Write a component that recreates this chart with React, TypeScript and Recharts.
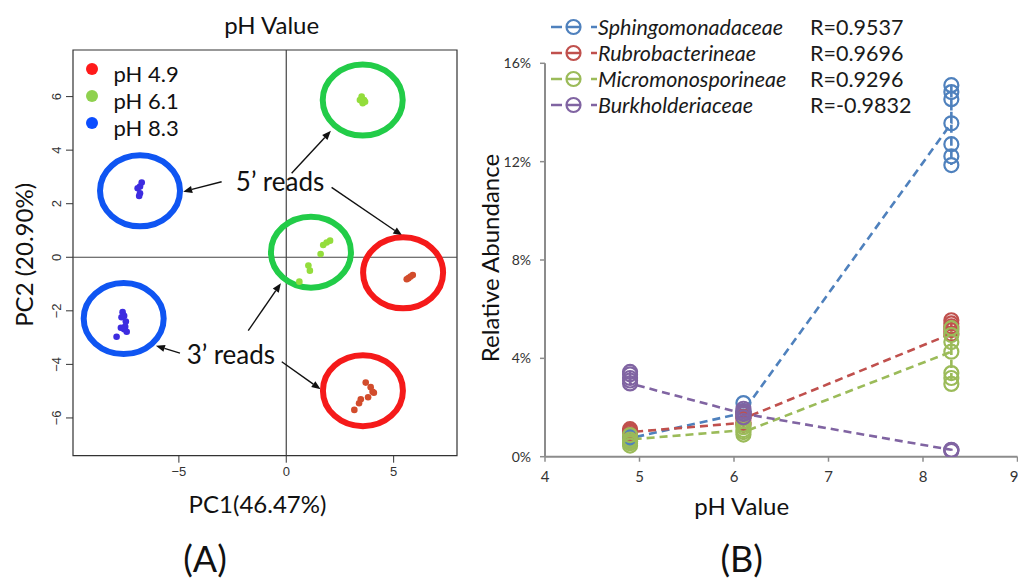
import React from "react";
import {
  ScatterChart,
  Scatter,
  ComposedChart,
  Line,
  XAxis,
  YAxis,
  ReferenceLine,
  ReferenceArea,
  ReferenceDot,
  Legend,
} from "recharts";

// ---- Panel A: PCA of reads ----
const pcaXDomain = [-9.93, 7.95];
const pcaYDomain = [-7.41, 7.74];
const pcaXTicks = [-5, 0, 5];
const pcaYTicks = [-6, -4, -2, 0, 2, 4, 6];

const phGroups = ["pH 4.9", "pH 6.1", "pH 8.3"];
const legendColors = ["#ff1a1a", "#8fd14f", "#0b4dff"];
const dotColors = ["#d24c2c", "#93dd3c", "#3d2ce0"];
const ringColors = ["#f51a1a", "#22cc48", "#0f55f2"];

const ph49Points = [
  { x: 5.69, y: -0.78 }, { x: 5.89, y: -0.66 }, { x: 5.79, y: -0.72 }, { x: 5.61, y: -0.82 },
  { x: 3.7, y: -4.68 }, { x: 3.93, y: -4.85 }, { x: 4.02, y: -5.02 }, { x: 4.08, y: -5.06 },
  { x: 3.81, y: -5.23 }, { x: 3.47, y: -5.3 }, { x: 3.39, y: -5.45 }, { x: 3.17, y: -5.7 },
];
const ph61Points = [
  { x: 3.51, y: 6.0 }, { x: 3.62, y: 5.87 }, { x: 3.56, y: 5.75 }, { x: 3.43, y: 5.87 }, { x: 3.67, y: 5.81 },
  { x: 2.04, y: 0.62 }, { x: 1.88, y: 0.55 }, { x: 1.72, y: 0.46 }, { x: 1.6, y: 0.12 },
  { x: 1.03, y: -0.31 }, { x: 1.1, y: -0.5 }, { x: 0.61, y: -0.91 },
];
const ph83Points = [
  { x: -6.81, y: 2.64 }, { x: -6.73, y: 2.79 }, { x: -6.92, y: 2.58 }, { x: -6.81, y: 2.39 }, { x: -6.85, y: 2.29 },
  { x: -7.62, y: -2.05 }, { x: -7.67, y: -2.24 }, { x: -7.55, y: -2.19 }, { x: -7.47, y: -2.4 },
  { x: -7.5, y: -2.59 }, { x: -7.7, y: -2.63 }, { x: -7.55, y: -2.69 }, { x: -7.43, y: -2.78 }, { x: -7.9, y: -2.97 },
];
const pointSets = [ph49Points, ph61Points, ph83Points];

// cluster rings (centres)
const ph49Rings = [{ x: 5.44, y: -0.58 }, { x: 3.57, y: -4.98 }];
const ph61Rings = [{ x: 3.56, y: 5.87 }, { x: 1.15, y: 0.19 }];
const ph83Rings = [{ x: -6.81, y: 2.48 }, { x: -7.57, y: -2.29 }];
const ringSets = [ph49Rings, ph61Rings, ph83Rings];

// annotation arrows, [from, to] in PC coordinates
const fivePrimeArrows = [
  [{ x: -3.01, y: 2.82 }, { x: -4.8, y: 2.45 }],
  [{ x: 0.25, y: 3.14 }, { x: 2.08, y: 4.72 }],
  [{ x: 2.11, y: 2.61 }, { x: 5.4, y: 0.81 }],
];
const threePrimeArrows = [
  [{ x: -1.77, y: -2.74 }, { x: -0.25, y: -0.97 }],
  [{ x: -4.95, y: -3.58 }, { x: -6.07, y: -3.3 }],
  [{ x: -0.21, y: -3.9 }, { x: 1.6, y: -4.93 }],
];
const readLabels = [
  { x: -0.29, y: 2.81, text: "5’ reads" },
  { x: -2.58, y: -3.65, text: "3’ reads" },
];

// ---- Panel B: relative abundance vs pH ----
const phLevels = [4.9, 6.1, 8.3];
const abundanceXTicks = [4, 5, 6, 7, 8, 9];
const abundanceYTicks = [0, 4, 8, 12, 16];
const taxa = ["Sphingomonadaceae", "Rubrobacterineae", "Micromonosporineae", "Burkholderiaceae"];
const rValues = ["R=0.9537", "R=0.9696", "R=0.9296", "R=-0.9832"];
const taxaColors = ["#4f81bd", "#c0504d", "#9bbb59", "#8064a2"];

// replicate abundances (%) per pH level, in plotting order
const sphingomonadaceae = [
  [0.62, 0.82, 0.75],
  [1.78, 2.18, 1.62, 1.85],
  [13.56, 15.11, 14.83, 14.54, 12.71, 12.22, 11.86],
];
const rubrobacterineae = [
  [0.92, 1.12, 1.05, 1.0],
  [1.38, 1.75, 1.62, 1.3, 1.55],
  [5.0, 5.55, 5.42, 5.3, 5.15],
];
const micromonosporineae = [
  [0.45, 0.88, 0.55, 0.62, 0.7],
  [1.08, 1.3, 0.9, 1.2, 1.0],
  [4.27, 5.23, 4.95, 4.66, 3.4, 3.2, 2.96],
];
const burkholderiaceae = [
  [3.45, 3.2, 3.35, 3.1, 2.98],
  [1.75, 1.95, 1.6, 1.85, 1.75],
  [0.28, 0.24, 0.27],
];
const taxaValues = [sphingomonadaceae, rubrobacterineae, micromonosporineae, burkholderiaceae];

const FONT = "Lato, 'Open Sans', sans-serif";
const RFONT = "'Liberation Sans', Arial, sans-serif";

const toSeries = (groups: number[][]) =>
  groups.flatMap((vals, i) => vals.map((v) => ({ x: phLevels[i], y: v })));

const fmtMinus = (v: number) => (v < 0 ? `\u2212${Math.abs(v)}` : `${v}`);

const arrowShape = (p: any) => {
  const { x1, y1, x2, y2 } = p;
  const ang = Math.atan2(y2 - y1, x2 - x1);
  const len = 9;
  const half = 3.6;
  const bx = x2 - len * Math.cos(ang);
  const by = y2 - len * Math.sin(ang);
  const px = -Math.sin(ang) * half;
  const py = Math.cos(ang) * half;
  return (
    <g>
      <line x1={x1} y1={y1} x2={bx} y2={by} stroke="#111" strokeWidth={1.4} />
      <polygon points={`${x2},${y2} ${bx + px},${by + py} ${bx - px},${by - py}`} fill="#111" />
    </g>
  );
};

// dx/dy measured from the axis line
const axisTitle = (text: string, dx: number, dy: number, vertical: boolean) => (props: any) => {
  const vb = props.viewBox || {};
  const cx = vertical ? vb.x + vb.width + dx : vb.x + vb.width / 2 + dx;
  const cy = vertical ? vb.y + vb.height / 2 + dy : vb.y + dy;
  return (
    <text
      x={cx}
      y={cy}
      dy="0.35em"
      textAnchor="middle"
      fontFamily={FONT}
      fontSize={24}
      fill="#111"
      transform={vertical ? `rotate(-90 ${cx} ${cy})` : undefined}
    >
      {text}
    </text>
  );
};

const pcaXTick = (p: any) => (
  <text x={p.x} y={p.y} dy="0.71em" textAnchor="middle" fontFamily={RFONT} fontSize={13} fill="#333">
    {fmtMinus(p.payload.value)}
  </text>
);

const pcaYTick = (p: any) => {
  const x = p.x + 3;
  return (
    <text x={x} y={p.y} textAnchor="middle" fontFamily={RFONT} fontSize={13} fill="#333" transform={`rotate(-90 ${x} ${p.y})`}>
      {fmtMinus(p.payload.value)}
    </text>
  );
};

const PcaLegend = () => (
  <div style={{ fontFamily: FONT, fontSize: 22, color: "#111" }}>
    {phGroups.map((g, i) => (
      <div key={g} style={{ display: "flex", alignItems: "center", height: 27 }}>
        <span style={{ width: 12, height: 12, borderRadius: 6, background: legendColors[i], display: "inline-block" }} />
        <span style={{ marginLeft: 16, position: "relative", top: 4, lineHeight: "27px" }}>{g}</span>
      </div>
    ))}
  </div>
);

const AbundanceLegend = () => (
  <div style={{ fontFamily: FONT, fontSize: 21.5, color: "#1a1a1a" }}>
    {taxa.map((t, i) => (
      <div key={t} style={{ display: "flex", alignItems: "center", height: 26.1, position: "relative" }}>
        <svg width={47} height={20} style={{ display: "block" }}>
          <line x1={0} y1={10} x2={11} y2={10} stroke={taxaColors[i]} strokeWidth={2.5} />
          <line x1={16} y1={10} x2={29} y2={10} stroke={taxaColors[i]} strokeWidth={2.5} />
          <line x1={40} y1={10} x2={46} y2={10} stroke={taxaColors[i]} strokeWidth={2.5} />
          <circle cx={22.5} cy={10} r={7} fill="none" stroke={taxaColors[i]} strokeWidth={2.2} />
        </svg>
        <span style={{ fontStyle: "italic", marginLeft: 0 }}>{t}</span>
        <span style={{ position: "absolute", left: 259 }}>{rValues[i]}</span>
      </div>
    ))}
  </div>
);

const abundanceXTick = (p: any) => (
  <text x={p.x} y={p.y} dy="0.71em" textAnchor="middle" fontFamily={FONT} fontSize={15} fill="#333">
    {p.payload.value}
  </text>
);

const abundanceYTick = (p: any) => (
  <text x={p.x} y={p.y} dy="0.35em" textAnchor="end" fontFamily={FONT} fontSize={14} fill="#333">
    {`${p.payload.value}%`}
  </text>
);

const PcaPanel = () => (
  <ScatterChart width={470} height={581} margin={{ top: 50, right: 13, bottom: 95.3, left: 33 }}>
    <XAxis
      type="number"
      dataKey="x"
      domain={pcaXDomain}
      ticks={pcaXTicks}
      allowDataOverflow
      height={30}
      axisLine={false}
      tickSize={7}
      tickMargin={4}
      tickLine={{ stroke: "#333" }}
      tick={pcaXTick}
      label={axisTitle("PC1(46.47%)", -7.5, 49, false)}
    />
    <YAxis
      type="number"
      dataKey="y"
      domain={pcaYDomain}
      ticks={pcaYTicks}
      allowDataOverflow
      width={40}
      axisLine={false}
      tickSize={7}
      tickMargin={8}
      tickLine={{ stroke: "#333" }}
      tick={pcaYTick}
      label={axisTitle("PC2 (20.90%)", -48, 2, true)}
    />
    <ReferenceArea
      x1={pcaXDomain[0]}
      x2={pcaXDomain[1]}
      y1={pcaYDomain[0]}
      y2={pcaYDomain[1]}
      fill="none"
      stroke="#333"
      strokeWidth={1.2}
      ifOverflow="visible"
    />
    <ReferenceLine x={0} stroke="#444" strokeWidth={1.2} />
    <ReferenceLine y={0} stroke="#444" strokeWidth={1.2} />
    {ringSets.map((rings, i) => (
      <Scatter
        key={`ring-${i}`}
        data={rings}
        legendType="none"
        isAnimationActive={false}
        shape={(p: any) => (
          <ellipse cx={p.cx} cy={p.cy} rx={40} ry={35.5} fill="none" stroke={ringColors[i]} strokeWidth={6} />
        )}
      />
    ))}
    {pointSets.map((pts, i) => (
      <Scatter
        key={phGroups[i]}
        name={phGroups[i]}
        data={pts}
        isAnimationActive={false}
        shape={(p: any) => <circle cx={p.cx} cy={p.cy} r={3.3} fill={dotColors[i]} />}
      />
    ))}
    {[...fivePrimeArrows, ...threePrimeArrows].map((seg, i) => (
      <ReferenceLine key={`arrow-${i}`} segment={seg} ifOverflow="visible" shape={arrowShape} />
    ))}
    {readLabels.map((l) => (
      <ReferenceDot
        key={l.text}
        x={l.x}
        y={l.y}
        r={0}
        ifOverflow="visible"
        shape={(p: any) => (
          <text x={p.cx} y={p.cy} dy="0.35em" textAnchor="middle" fontFamily={FONT} fontSize={26} fill="#111">
            {l.text}
          </text>
        )}
      />
    ))}
    <Legend
      content={() => <PcaLegend />}
      layout="vertical"
      align="center"
      verticalAlign="middle"
      wrapperStyle={{ top: 55.5, left: 85.5, width: 130 }}
    />
  </ScatterChart>
);

const AbundancePanel = () => (
  <ComposedChart width={558} height={581} margin={{ top: 63.3, right: 0.5, bottom: 94.3, left: 45 }}>
    <XAxis
      type="number"
      dataKey="x"
      domain={[4, 9]}
      ticks={abundanceXTicks}
      allowDataOverflow
      height={30}
      axisLine={{ stroke: "#8c8c8c", strokeWidth: 2 }}
      tickLine={{ stroke: "#8c8c8c", strokeWidth: 1.5 }}
      tickSize={5}
      tickMargin={10}
      tick={abundanceXTick}
      label={axisTitle("pH Value", -39.5, 50, false)}
    />
    <YAxis
      type="number"
      domain={[0, 16]}
      ticks={abundanceYTicks}
      allowDataOverflow
      width={40}
      axisLine={{ stroke: "#8c8c8c", strokeWidth: 2 }}
      tickLine={{ stroke: "#8c8c8c", strokeWidth: 1.5 }}
      tickSize={5}
      tickMargin={9}
      tick={abundanceYTick}
      label={axisTitle("Relative Abundance", -54, -2, true)}
    />
    {taxa.map((t, i) => (
      <Line
        key={t}
        name={t}
        data={toSeries(taxaValues[i])}
        dataKey="y"
        type="linear"
        stroke={taxaColors[i]}
        strokeWidth={2.6}
        strokeDasharray="8 5"
        isAnimationActive={false}
        dot={(p: any) => (
          <circle key={`${t}-${p.index}`} cx={p.cx} cy={p.cy} r={7} fill="none" stroke={taxaColors[i]} strokeWidth={2.2} />
        )}
        activeDot={false}
      />
    ))}
    <Legend
      content={() => <AbundanceLegend />}
      layout="vertical"
      align="center"
      verticalAlign="middle"
      wrapperStyle={{ top: 13.6, left: 91, width: 440 }}
    />
  </ComposedChart>
);

export default function App() {
  return (
    <div style={{ position: "absolute", left: 0, top: 0, width: 1018, height: 581, background: "#fff", overflow: "hidden" }}>
      <div style={{ position: "absolute", left: 0, top: 0 }}>
        <PcaPanel />
      </div>
      <div style={{ position: "absolute", left: 460, top: 0 }}>
        <AbundancePanel />
      </div>
      <div style={{ position: "absolute", left: 171.7, width: 200, top: 10, textAlign: "center", fontFamily: FONT, fontSize: 24, lineHeight: "30px", color: "#111" }}>
        pH Value
      </div>
      <div style={{ position: "absolute", left: 105, width: 200, top: 536, textAlign: "center", fontFamily: FONT, fontSize: 36, lineHeight: "44px", color: "#111" }}>
        (A)
      </div>
      <div style={{ position: "absolute", left: 641.7, width: 200, top: 536, textAlign: "center", fontFamily: FONT, fontSize: 36, lineHeight: "44px", color: "#111" }}>
        (B)
      </div>
    </div>
  );
}
